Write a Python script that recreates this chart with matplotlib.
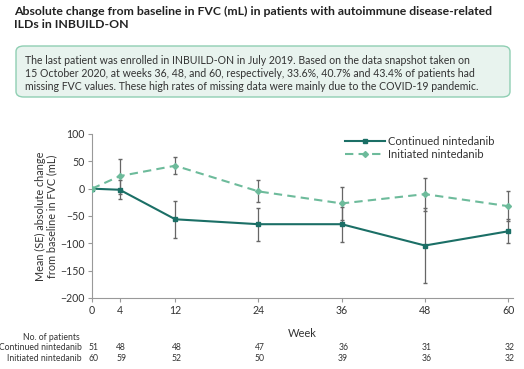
import matplotlib
matplotlib.use("Agg")
import matplotlib.pyplot as plt
from matplotlib.patches import FancyBboxPatch

plt.rcParams['font.family'] = ['Lato', 'DejaVu Sans']

# data
weeks = [0, 4, 12, 24, 36, 48, 60]
cont_mean = [0, -2, -56, -65, -65, -104, -78]
cont_se = [0, 17, 34, 30, 32, 68, 22]
init_mean = [0, 23, 42, -5, -27, -10, -32]
init_se = [0, 32, 16, 20, 30, 30, 28]
cont_n = [51, 48, 48, 47, 36, 31, 32]
init_n = [60, 59, 52, 50, 39, 36, 32]

dark = '#1b6f66'
light = '#6dbb9b'
grey = '#666666'
txt = '#333333'

W, H = 524, 369
fig = plt.figure(figsize=(W / 100, H / 100), dpi=100)

# title
fig.text(14 / W, 1 - 6 / H, 'Absolute change from baseline in FVC (mL) in patients with autoimmune disease-related\nILDs in INBUILD-ON',
         fontsize=8.8, fontweight='bold', va='top', ha='left', color='#222222', linespacing=1.25)

# note box
box = FancyBboxPatch((16 / W, 1 - 97 / H), 494 / W, 51 / H, transform=fig.transFigure,
                     boxstyle='round,pad=0,rounding_size=0.015', facecolor='#e8f3ee',
                     edgecolor='#8fcfb3', linewidth=1.0)
fig.patches.append(box)
fig.text(25 / W, 1 - 55 / H,
         'The last patient was enrolled in INBUILD-ON in July 2019. Based on the data snapshot taken on\n'
         '15 October 2020, at weeks 36, 48, and 60, respectively, 33.6%, 40.7% and 43.4% of patients had\n'
         'missing FVC values. These high rates of missing data were mainly due to the COVID-19 pandemic.',
         fontsize=7.6, va='top', ha='left', color=txt, linespacing=1.2)

ax = fig.add_axes([92 / W, 71 / H, 421 / W, 164 / H])
ax.errorbar(weeks, cont_mean, yerr=cont_se, color=dark, marker='s', markersize=3.5, linewidth=1.5,
            ecolor=grey, elinewidth=0.9, capsize=1.5, zorder=3)
ax.errorbar(weeks, init_mean, yerr=init_se, color=light, marker='D', markersize=3, linewidth=1.5,
            linestyle=(0, (4, 2.5)), ecolor=grey, elinewidth=0.9, capsize=1.5, zorder=3)
# legend handles without error bars
ax.plot([], [], color=dark, marker='s', markersize=3.5, linewidth=1.5, label='Continued nintedanib')
ax.plot([], [], color=light, marker='D', markersize=3, linewidth=1.5, linestyle=(0, (4, 2.5)),
        label='Initiated nintedanib')

ax.set_xlim(0, 60.7)
ax.set_ylim(-200, 100)
ax.set_xticks(weeks)
ax.set_yticks(range(-200, 101, 50))
for s in ['top', 'right']:
    ax.spines[s].set_visible(False)
for s in ['left', 'bottom']:
    ax.spines[s].set_color('#999999')
ax.tick_params(colors='#999999', labelcolor=txt, labelsize=7.6, length=3, width=0.8, pad=2)
ax.set_xlabel('Week', fontsize=8, color=txt, labelpad=9)
ax.set_ylabel('Mean (SE) absolute change\nfrom baseline in FVC (mL)', fontsize=7.8, color=txt,
              labelpad=2, linespacing=1.1)

leg = ax.legend(loc='upper right', bbox_to_anchor=(0.98, 1.05), frameon=False, fontsize=8,
                handlelength=3.6, handletextpad=0.3, labelspacing=0.2)
for t in leg.get_texts():
    t.set_color(txt)

# number at risk table
fig.text(80 / W, 1 - 337 / H, 'No. of patients', fontsize=6.2, ha='right', va='center', color=txt)
for row, (lab, ns) in enumerate([('Continued nintedanib', cont_n), ('Initiated nintedanib', init_n)]):
    yy = 1 - (348 + 10.5 * row) / H
    fig.text(82 / W, yy, lab, fontsize=6.2, ha='right', va='center', color=txt)
    for w, n in zip(weeks, ns):
        xf = ax.transData.transform((w, 0))[0] / fig.bbox.width + 1.5 / W
        fig.text(xf, yy, str(n), fontsize=6.2, ha='center', va='center', color=txt)

fig.savefig('out.png', dpi=100)
